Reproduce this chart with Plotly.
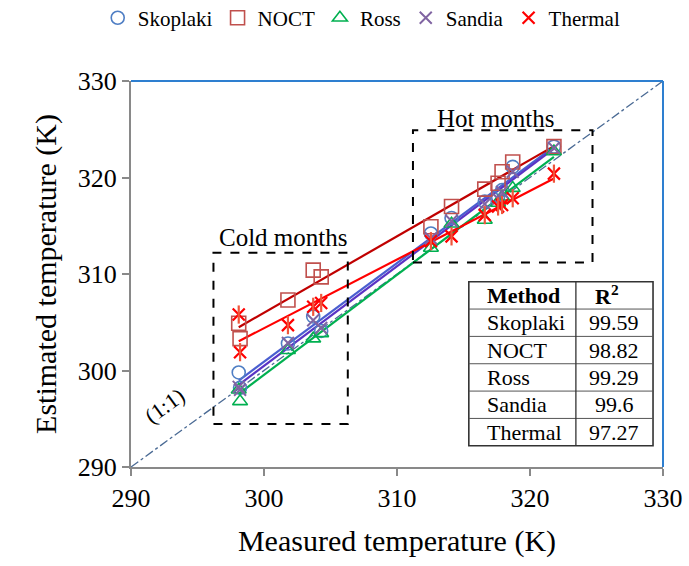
import numpy as np
import plotly.graph_objects as go

# Measured module temperature (K), cold months then hot months
measured = [298.1, 298.2, 301.8, 303.7, 304.3,
            312.55, 314.1, 316.6, 317.6, 317.9, 318.7, 321.8]

# Estimated module temperature (K) for each model
skoplaki = [299.8, 298.2, 302.8, 305.6, 304.1,
            314.2, 315.8, 317.5, 318.0, 318.7, 321.1, 323.2]
noct     = [304.9, 303.3, 307.3, 310.4, 309.7,
            314.9, 317.0, 318.8, 319.4, 320.6, 321.6, 323.2]
ross     = [298.0, 296.8, 302.1, 303.3, 303.85,
            312.7, 315.2, 315.6, 317.35, 318.0, 318.9, 322.7]
sandia   = [298.3, 298.0, 302.85, 305.2, 304.4,
            313.7, 315.5, 317.25, 317.8, 318.5, 320.6, 323.05]
thermal  = [305.8, 301.9, 304.7, 306.6, 307.0,
            313.4, 313.9, 316.1, 317.0, 317.15, 317.85, 320.4]

# Coefficient of determination (%) for each model
methods = ["Skoplaki", "NOCT", "Ross", "Sandia", "Thermal"]
r2_values = ["99.59", "98.82", "99.29", "99.6", "97.27"]

axis_ticks = [290, 300, 310, 320, 330]

FONT = "Liberation Serif"

fig = go.Figure()

# 1:1 reference line
fig.add_trace(go.Scatter(
    x=[axis_ticks[0], axis_ticks[-1]], y=[axis_ticks[0], axis_ticks[-1]],
    mode="lines", line=dict(color="#4A6A94", width=1.3, dash="dashdot"),
    showlegend=False, hoverinfo="skip"))

series = [
    ("Skoplaki", skoplaki, "#4F7EC4", "#4A5ED0",
     dict(symbol="circle-open", size=13, line=dict(width=1.6))),
    ("NOCT", noct, "#C0504D", "#C00000",
     dict(symbol="square-open", size=14, line=dict(width=1.6))),
    ("Ross", ross, "#00B050", "#00B050",
     dict(symbol="triangle-up-open", size=13, line=dict(width=1.6))),
    ("Sandia", sandia, "#8064A2", "#5A34C4",
     dict(symbol="x-thin-open", size=12, line=dict(width=2))),
    ("Thermal", thermal, "#FF0000", "#FF0000",
     dict(symbol="x-thin-open", size=12, line=dict(width=2.2))),
]

x_arr = np.array(measured)
x_fit = np.array([x_arr.min(), x_arr.max()])

# Linear trend line for each model
for name, vals, mcol, lcol, mk in series:
    slope, intercept = np.polyfit(x_arr, np.array(vals), 1)
    fig.add_trace(go.Scatter(
        x=x_fit, y=slope * x_fit + intercept, mode="lines",
        line=dict(color=lcol, width=2.2), showlegend=False, hoverinfo="skip"))

# Model markers
for name, vals, mcol, lcol, mk in series:
    mk = dict(mk)
    mk["color"] = mcol
    mk["line"] = dict(mk["line"], color=mcol)
    fig.add_trace(go.Scatter(
        x=measured, y=vals, mode="markers", name=name, marker=mk))
    if name == "Thermal":
        # vertical stroke that turns the cross into an asterisk
        fig.add_trace(go.Scatter(
            x=measured, y=vals, mode="markers", showlegend=False,
            hoverinfo="skip",
            marker=dict(symbol="line-ns-open", size=13,
                        line=dict(color=mcol, width=2.2))))

shapes = []
# Dashed groups: cold and hot months
shapes.append(dict(type="rect", xref="x", yref="y", x0=296.2, x1=306.3,
                   y0=294.45, y1=312.2,
                   line=dict(color="black", width=2, dash="dash")))
shapes.append(dict(type="rect", xref="x", yref="y", x0=311.2, x1=324.7,
                   y0=311.2, y1=324.9,
                   line=dict(color="black", width=2, dash="dash")))

# Top and right frame in blue
shapes.append(dict(type="line", xref="paper", yref="paper", x0=0, x1=1,
                   y0=1, y1=1, line=dict(color="#2E7FD0", width=2)))
shapes.append(dict(type="line", xref="paper", yref="paper", x0=1, x1=1,
                   y0=0, y1=1, line=dict(color="#2E7FD0", width=2)))

# Results table
tx0, tx1, tdiv = 315.4, 329.25, 323.45
ty_top, ty_bot = 309.2, 292.2
n_rows = len(methods) + 1
row_h = (ty_top - ty_bot) / n_rows
shapes.append(dict(type="rect", xref="x", yref="y", x0=tx0, x1=tx1,
                   y0=ty_bot, y1=ty_top, fillcolor="white",
                   line=dict(color="#333333", width=1.6), layer="above"))
for i in range(1, n_rows):
    yy = ty_top - i * row_h
    shapes.append(dict(type="line", xref="x", yref="y", x0=tx0, x1=tx1,
                       y0=yy, y1=yy, line=dict(color="#555555", width=1)))
shapes.append(dict(type="line", xref="x", yref="y", x0=tdiv, x1=tdiv,
                   y0=ty_bot, y1=ty_top, line=dict(color="#333333", width=1.3)))

annotations = []
table_font = dict(family=FONT, size=22, color="black")
annotations.append(dict(x=tx0 + 1.25, y=ty_top - 0.5 * row_h, xref="x",
                        yref="y", text="<b>Method</b>", showarrow=False,
                        xanchor="left", font=table_font))
annotations.append(dict(x=tdiv + 1.25, y=ty_top - 0.5 * row_h, xref="x",
                        yref="y", text="<b>R<sup>2</sup></b>", showarrow=False,
                        xanchor="left", font=table_font))
for i, (m, r) in enumerate(zip(methods, r2_values)):
    yy = ty_top - (i + 1.5) * row_h
    annotations.append(dict(x=tx0 + 1.25, y=yy, xref="x", yref="y", text=m,
                            showarrow=False, xanchor="left", font=table_font))
    annotations.append(dict(x=(tdiv + tx1) / 2, y=yy, xref="x", yref="y",
                            text=r, showarrow=False, xanchor="center",
                            font=table_font))

label_font = dict(family=FONT, size=25, color="black")
annotations.append(dict(x=301.46, y=313.8, xref="x", yref="y",
                        text="Cold months", showarrow=False, font=label_font))
annotations.append(dict(x=317.4, y=326.1, xref="x", yref="y",
                        text="Hot months", showarrow=False, font=label_font))
annotations.append(dict(x=292.55, y=296.4, xref="x", yref="y", text="(1:1)",
                        showarrow=False, textangle=-36,
                        font=dict(family=FONT, size=22, color="black")))

axis_common = dict(
    range=[axis_ticks[0], axis_ticks[-1]], tickvals=axis_ticks,
    ticks="outside", ticklen=7, tickwidth=2, tickcolor="#898989",
    showline=True, linecolor="#898989", linewidth=2, showgrid=False,
    zeroline=False, automargin=False,
    tickfont=dict(family=FONT, size=26, color="black"),
)

fig.update_layout(
    width=689, height=566,
    margin=dict(l=131, r=26, t=81, b=99),
    paper_bgcolor="white", plot_bgcolor="white",
    font=dict(family=FONT, color="black"),
    xaxis=dict(axis_common, title=dict(text="Measured temperature (K)",
                                       font=dict(family=FONT, size=30,
                                                 color="black"),
                                       standoff=18)),
    yaxis=dict(axis_common, title=dict(text="Estimated temperature (K)",
                                       font=dict(family=FONT, size=30,
                                                 color="black"),
                                       standoff=12)),
    legend=dict(orientation="h", xref="container", yref="container",
                x=0.525, xanchor="center", y=0.968, yanchor="middle",
                font=dict(family=FONT, size=21, color="black"),
                itemwidth=30, tracegroupgap=0, bgcolor="rgba(0,0,0,0)"),
    shapes=shapes, annotations=annotations,
)

fig.write_html("out.html")
